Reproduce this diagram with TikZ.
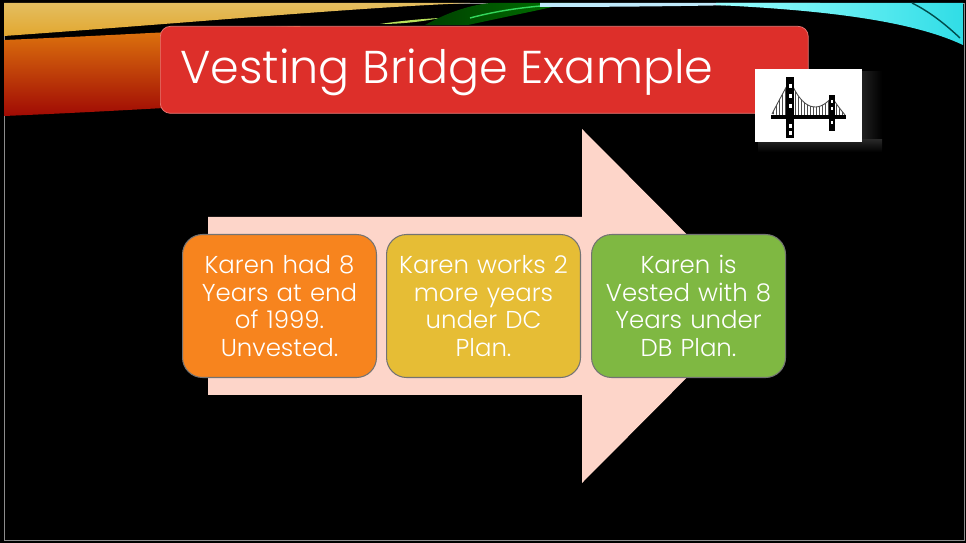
\documentclass[tikz,border=0pt]{standalone}
\usepackage{fontspec}
\setmainfont{Poppins}[UprightFont=* Light]
\usetikzlibrary{positioning}

\definecolor{titlered}{HTML}{DD2F2A}
\definecolor{arrowpink}{HTML}{FDD5C9}
\definecolor{stageorange}{HTML}{F7841E}
\definecolor{stageyellow}{HTML}{E6BD35}
\definecolor{stagegreen}{HTML}{7FB842}
\definecolor{streakyellow}{HTML}{DDAE38}
\definecolor{streakorange}{HTML}{E0780E}
\definecolor{streakred}{HTML}{DE1A06}
\definecolor{streakdark}{HTML}{A00A04}
\definecolor{streakcyan}{HTML}{30DDE6}

\begin{document}
\begin{tikzpicture}[x=0.02cm, y=-0.02cm, node distance=0.18cm,
	stage/.style = {draw=black!55, line width=0.6pt, rounded corners=0.4cm,
		minimum width=3.88cm, minimum height=2.86cm, inner sep=0pt,
		text width=3.6cm, align=center, text=white,
		font=\fontsize{13.9}{15.6}\selectfont},
	titlebar/.style = {draw=titlered!65!white, fill=titlered, rounded corners=0.2cm,
		minimum width=12.96cm, minimum height=1.74cm, inner sep=0pt},
	titletext/.style = {text=white, inner sep=0pt, font=\fontsize{26.2}{32}\selectfont},
	cable/.style = {black!70, line width=0.3pt}]
	\useasboundingbox (0,0) rectangle (966,543);
	\fill[black] (0,0) rectangle (966,543);
	\draw[black!45, line width=0.5pt] (4,3) rectangle (964,540);

	% warm streaks top left
	\shade[top color=streakorange, middle color=streakred, bottom color=streakdark]
		(4,40) .. controls (100,36) and (200,30) .. (300,26) -- (300,100)
		.. controls (200,106) and (100,112) .. (4,116) -- cycle;
	\shade[top color=streakyellow!80!white, bottom color=streakyellow!85!orange]
		(4,3) -- (470,3) .. controls (350,8) and (200,22) .. (4,36) -- cycle;
	\fill[yellow!60!green!70!white] (380,24) .. controls (400,21) and (420,19) .. (440,18)
		.. controls (420,22) and (400,24) .. (380,24) -- cycle;
	% green and pale streak along the top
	\shade[left color=green!25!black, right color=green!45!black]
		(425,25) .. controls (445,14) and (465,6) .. (490,3) -- (570,3)
		.. controls (540,10) and (500,18) .. (468,25) -- cycle;
	\draw[green!60!teal!80!white, line width=0.8pt] (470,18) .. controls (500,10) and (530,6) .. (570,4);
	\fill[white!75!cyan] (540,3) -- (820,3) .. controls (720,6) and (620,7) .. (540,7) -- cycle;
	% cyan sweep top right
	\shade[left color=white!60!cyan, right color=streakcyan]
		(716,3) -- (963,3) -- (963,45) .. controls (910,20) and (820,10) .. (716,5) -- cycle;
	\draw[teal!60!black, line width=0.8pt] (912,3) .. controls (930,12) and (945,24) .. (960,38);

	% big arrow behind the steps
	\fill[arrowpink] (208,217) -- (582,217) -- (582,129) -- (758,306)
		-- (582,483) -- (582,395) -- (208,395) -- cycle;

	% title bar
	\node[titlebar, anchor=north west] (bar) at (160,26) {};
	\node[titletext, anchor=base west] (title) at (180,84) {Vesting Bridge Example};

	% bridge icon with its soft shadow
	\shade[left color=black!85, right color=black] (858,72) rectangle (882,150);
	\shade[top color=black!85, bottom color=black] (758,140) rectangle (882,152);
	\node[fill=white, minimum width=2.14cm, minimum height=1.46cm, inner sep=0pt,
		anchor=north west] (icon) at (755,69) {};
	\begin{scope}
		\clip (790,80) .. controls (802,110) and (818,114) .. (832,97) -- (832,117) -- (790,117) -- cycle;
		\foreach \x in {792,795,...,831} \draw[cable] (\x,70) -- (\x,117);
	\end{scope}
	\begin{scope}
		\clip (790,80) .. controls (782,95) and (776,106) .. (772,114) -- (790,117) -- cycle;
		\foreach \x in {773,776,...,789} \draw[cable] (\x,70) -- (\x,117);
	\end{scope}
	\begin{scope}
		\clip (832,97) .. controls (836,104) and (841,110) .. (845,115) -- (832,117) -- cycle;
		\foreach \x in {833,836,...,845} \draw[cable] (\x,90) -- (\x,117);
	\end{scope}
	\draw[cable, line width=0.5pt] (790,80) .. controls (802,110) and (818,114) .. (832,97);
	\draw[cable, line width=0.5pt] (790,80) .. controls (782,95) and (776,106) .. (772,114);
	\draw[cable, line width=0.5pt] (832,97) .. controls (836,104) and (841,110) .. (845,115);
	\draw[black, line width=2pt] (771,117) -- (846,117);
	\fill[black] (786,77) rectangle (794,138);
	\fill[black] (829,95) rectangle (835,131);
	\foreach \y in {84,94,104,124,131} \fill[white] (788.5,\y) rectangle (791.5,\y+4);
	\foreach \y in {100,107,121} \fill[white] (831,\y) rectangle (833,\y+3);

	% the three steps
	\node[stage, fill=stageorange, anchor=north west] (had) at (182,234)
		{Karen had 8\\Years at end\\of 1999.\\Unvested.};
	\node[stage, fill=stageyellow, right=of had] (works)
		{Karen works 2\\more years\\under DC\\Plan.};
	\node[stage, fill=stagegreen, right=0.2cm of works] (vested)
		{Karen is\\Vested with 8\\Years under\\DB Plan.};
\end{tikzpicture}
\end{document}
